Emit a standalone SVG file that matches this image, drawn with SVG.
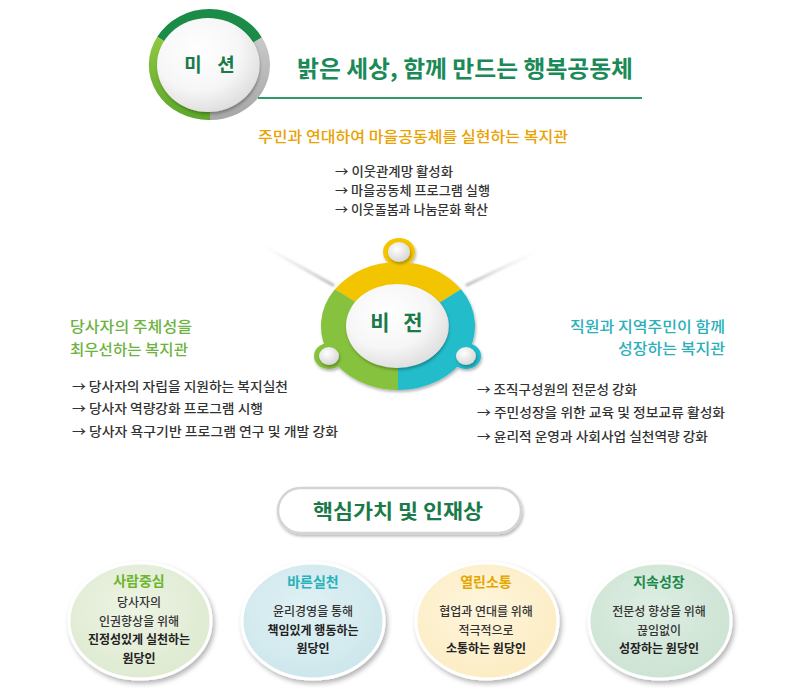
<svg xmlns="http://www.w3.org/2000/svg" width="800" height="700" viewBox="0 0 800 700">
<style>
text{font-family:"Noto Sans CJK KR","Noto Sans",sans-serif}
.list{font-size:13px;fill:#333;font-weight:500}
.head{font-size:15px;font-weight:500}
.body{font-size:12px;fill:#333;font-weight:500;text-anchor:middle}
.bodyb{font-size:12px;fill:#222;font-weight:700;text-anchor:middle}
.ctitle{font-size:14px;font-weight:700;text-anchor:middle}
.ray{fill:none;stroke-width:3;stroke-linecap:round}
.badge{font-weight:700;fill:#1a7a4a;text-anchor:middle}
</style>
<defs>
<filter id="sh" x="-30%" y="-30%" width="160%" height="160%"><feDropShadow dx="2" dy="3" stdDeviation="2.5" flood-color="#000" flood-opacity="0.3"/></filter>
<filter id="shs" x="-30%" y="-30%" width="160%" height="160%"><feDropShadow dx="1" dy="2" stdDeviation="1.5" flood-color="#000" flood-opacity="0.3"/></filter>
<filter id="rayb" x="-20%" y="-20%" width="140%" height="140%"><feGaussianBlur stdDeviation="1"/></filter>
<radialGradient id="wg" cx="40%" cy="35%" r="70%"><stop offset="0" stop-color="#ffffff"/><stop offset="0.6" stop-color="#f6f6f6"/><stop offset="1" stop-color="#dcdcdc"/></radialGradient>
<radialGradient id="kg" cx="40%" cy="35%" r="70%"><stop offset="0" stop-color="#ffffff"/><stop offset="1" stop-color="#d5d5d5"/></radialGradient>
<linearGradient id="lgreen" x1="0" y1="0" x2="0" y2="1"><stop offset="0" stop-color="#8fc640"/><stop offset="1" stop-color="#5fa82c"/></linearGradient>
<linearGradient id="lgray" x1="0" y1="0" x2="0" y2="1"><stop offset="0" stop-color="#c8c8c8"/><stop offset="1" stop-color="#a8a8a8"/></linearGradient>
<linearGradient id="r1" gradientUnits="userSpaceOnUse" x1="258" y1="243" x2="333" y2="285"><stop offset="0" stop-color="#e8e8e8" stop-opacity="0"/><stop offset="1" stop-color="#b8b8b8"/></linearGradient>
<linearGradient id="r2" gradientUnits="userSpaceOnUse" x1="540" y1="250" x2="467" y2="285"><stop offset="0" stop-color="#e8e8e8" stop-opacity="0"/><stop offset="1" stop-color="#b8b8b8"/></linearGradient>
<linearGradient id="r3" gradientUnits="userSpaceOnUse" x1="398" y1="390" x2="398" y2="450"><stop offset="0" stop-color="#b8b8b8"/><stop offset="1" stop-color="#e8e8e8" stop-opacity="0"/></linearGradient>
<radialGradient id="c1" cx="45%" cy="40%" r="65%"><stop offset="0" stop-color="#edf4e4"/><stop offset="1" stop-color="#dde9cf"/></radialGradient>
<radialGradient id="c2" cx="45%" cy="40%" r="65%"><stop offset="0" stop-color="#e0f1f4"/><stop offset="1" stop-color="#cce6eb"/></radialGradient>
<radialGradient id="c3" cx="45%" cy="40%" r="65%"><stop offset="0" stop-color="#fef5dc"/><stop offset="1" stop-color="#fcecc2"/></radialGradient>
<radialGradient id="c4" cx="45%" cy="40%" r="65%"><stop offset="0" stop-color="#deeee3"/><stop offset="1" stop-color="#cbe2d2"/></radialGradient>
</defs>
<rect width="800" height="700" fill="#ffffff"/>

<g id="connectors">
<line class="ray" x1="258" y1="243" x2="333" y2="285" stroke="url(#r1)" filter="url(#rayb)"/>
<line class="ray" x1="540" y1="250" x2="467" y2="285" stroke="url(#r2)" filter="url(#rayb)"/>
<line class="ray" x1="398" y1="390" x2="398" y2="450" stroke="url(#r3)" filter="url(#rayb)"/>
</g>

<g id="mission">
<path d="M161.5,39.5 A55 50 0 0 1 257.6,40" fill="none" stroke="#1b8c48" stroke-width="10"/>
<path d="M257.6,40 A55 50 0 0 1 210,115" fill="none" stroke="url(#lgray)" stroke-width="10"/>
<path d="M210,115 A55 50 0 0 1 161.5,39.5" fill="none" stroke="url(#lgreen)" stroke-width="10"/>
<ellipse cx="208" cy="65" rx="51" ry="47" fill="url(#wg)" filter="url(#shs)"/>
<text class="badge" x="193" y="72" font-size="19">미</text>
<text class="badge" x="226" y="72" font-size="19">션</text>
</g>

<g id="mission-title">
<text x="297" y="77" font-size="23" font-weight="700" fill="#1b8a58" textLength="336" lengthAdjust="spacingAndGlyphs">밝은 세상, 함께 만드는 행복공동체</text>
<line x1="258" y1="98" x2="642" y2="98" stroke="#2e9b6b" stroke-width="2"/>
</g>

<g id="vision-top">
<text class="head" x="258" y="142" fill="#e9a200" textLength="310" lengthAdjust="spacingAndGlyphs">주민과 연대하여 마을공동체를 실현하는 복지관</text>
<text class="list" x="335" y="176" textLength="118" lengthAdjust="spacingAndGlyphs">→ 이웃관계망 활성화</text>
<text class="list" x="335" y="195" textLength="155" lengthAdjust="spacingAndGlyphs">→ 마을공동체 프로그램 실행</text>
<text class="list" x="335" y="214" textLength="153" lengthAdjust="spacingAndGlyphs">→ 이웃돌봄과 나눔문화 확산</text>
</g>

<g id="vision">
<g filter="url(#shs)">
<path d="M334.92,289.29 A77 64 0 0 1 461.08,289.29 L439.78,302.48 A51 41 0 0 0 356.22,302.48 Z" fill="#f3c500"/>
<ellipse cx="399" cy="252" rx="16" ry="14" fill="#f3c500"/>
<path d="M461.08,289.29 A77 64 0 0 1 398,390 L398,367 A51 41 0 0 0 439.78,302.48 Z" fill="#20bccb"/>
<ellipse cx="466" cy="356" rx="15" ry="13" fill="#20bccb"/>
<path d="M398,390 A77 64 0 0 1 334.92,289.29 L356.22,302.48 A51 41 0 0 0 398,367 Z" fill="#86c23c"/>
<ellipse cx="329" cy="356" rx="15" ry="13" fill="#86c23c"/>
</g>
<ellipse cx="399" cy="252" rx="11" ry="10" fill="url(#kg)" filter="url(#shs)"/>
<ellipse cx="466" cy="356" rx="10" ry="9" fill="url(#kg)" filter="url(#shs)"/>
<ellipse cx="329" cy="356" rx="10" ry="9" fill="url(#kg)" filter="url(#shs)"/>
<ellipse cx="397" cy="326" rx="51" ry="42" fill="url(#wg)" filter="url(#shs)"/>
<text class="badge" x="380" y="330" font-size="21">비</text>
<text class="badge" x="413" y="330" font-size="21">전</text>
</g>

<g id="vision-left">
<text class="head" x="70" y="332" fill="#6db33f" textLength="122" lengthAdjust="spacingAndGlyphs">당사자의 주체성을</text>
<text class="head" x="70" y="355" fill="#6db33f" textLength="118" lengthAdjust="spacingAndGlyphs">최우선하는 복지관</text>
<text class="list" x="72" y="391" textLength="216" lengthAdjust="spacingAndGlyphs">→ 당사자의 자립을 지원하는 복지실천</text>
<text class="list" x="72" y="413" textLength="191" lengthAdjust="spacingAndGlyphs">→ 당사자 역량강화 프로그램 시행</text>
<text class="list" x="72" y="436" textLength="266" lengthAdjust="spacingAndGlyphs">→ 당사자 욕구기반 프로그램 연구 및 개발 강화</text>
</g>

<g id="vision-right">
<text class="head" x="725" y="332" fill="#2bb0b9" text-anchor="end" textLength="155" lengthAdjust="spacingAndGlyphs">직원과 지역주민이 함께</text>
<text class="head" x="725" y="354" fill="#2bb0b9" text-anchor="end" textLength="107" lengthAdjust="spacingAndGlyphs">성장하는 복지관</text>
<text class="list" x="477" y="394" textLength="160" lengthAdjust="spacingAndGlyphs">→ 조직구성원의 전문성 강화</text>
<text class="list" x="477" y="417" textLength="248" lengthAdjust="spacingAndGlyphs">→ 주민성장을 위한 교육 및 정보교류 활성화</text>
<text class="list" x="477" y="441" textLength="231" lengthAdjust="spacingAndGlyphs">→ 윤리적 운영과 사회사업 실천역량 강화</text>
</g>

<g id="core-values">
<rect x="278" y="488" width="243" height="45" rx="22.5" fill="#ffffff" stroke="#d4d4d4" stroke-width="2.5" filter="url(#shs)"/>
<text x="313" y="519" font-size="20" font-weight="700" fill="#1a7a4a" textLength="170" lengthAdjust="spacingAndGlyphs">핵심가치 및 인재상</text>
</g>

<g id="card-1">
<ellipse cx="140" cy="621" rx="71" ry="58" fill="url(#c1)" stroke="#ffffff" stroke-width="3" filter="url(#sh)"/>
<text class="ctitle" x="139" y="586" fill="#6cb52d">사람중심</text>
<text class="body" x="139" y="607">당사자의</text>
<text class="body" x="139" y="626">인권향상을 위해</text>
<text class="bodyb" x="139" y="644">진정성있게 실천하는</text>
<text class="bodyb" x="139" y="663">원당인</text>
</g>

<g id="card-2">
<ellipse cx="313" cy="621" rx="71" ry="58" fill="url(#c2)" stroke="#ffffff" stroke-width="3" filter="url(#sh)"/>
<text class="ctitle" x="313" y="587" fill="#27b1bb">바른실천</text>
<text class="body" x="313" y="616">윤리경영을 통해</text>
<text class="bodyb" x="313" y="635">책임있게 행동하는</text>
<text class="bodyb" x="313" y="653">원당인</text>
</g>

<g id="card-3">
<ellipse cx="487" cy="621" rx="71" ry="58" fill="url(#c3)" stroke="#ffffff" stroke-width="3" filter="url(#sh)"/>
<text class="ctitle" x="486" y="587" fill="#e5a600">열린소통</text>
<text class="body" x="486" y="616">협업과 연대를 위해</text>
<text class="body" x="486" y="635">적극적으로</text>
<text class="bodyb" x="486" y="653">소통하는 원당인</text>
</g>

<g id="card-4">
<ellipse cx="660" cy="621" rx="71" ry="58" fill="url(#c4)" stroke="#ffffff" stroke-width="3" filter="url(#sh)"/>
<text class="ctitle" x="659" y="587" fill="#1c8a4c">지속성장</text>
<text class="body" x="659" y="616">전문성 향상을 위해</text>
<text class="body" x="659" y="635">끊임없이</text>
<text class="bodyb" x="659" y="653">성장하는 원당인</text>
</g>
</svg>
